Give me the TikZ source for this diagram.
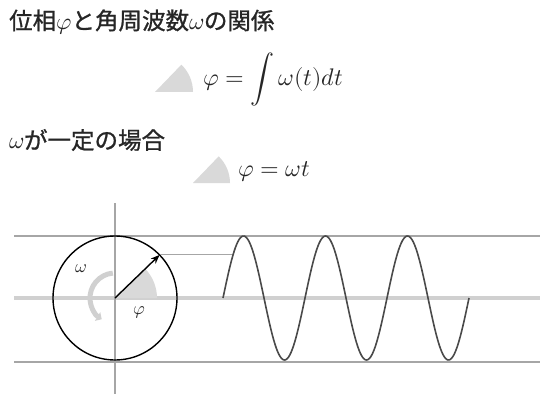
\documentclass[tikz,border=0pt]{standalone}
\usepackage{fontspec}
\usepackage{unicode-math}
\usepackage{xcolor}
\usepackage{tikz}
\usetikzlibrary{positioning, arrows.meta}
\newfontfamily\jpfont{Noto Sans CJK JP}[FakeBold=1]
\definecolor{textgray}{HTML}{262626}
\definecolor{linegray}{HTML}{A6A6A6}
\definecolor{midgray}{HTML}{D0D0D0}
\definecolor{fangray}{HTML}{D9D9D9}
\definecolor{wavegray}{HTML}{4A4A4A}

\begin{document}
\begin{tikzpicture}[x=1pt, y=1pt,
    heading/.style={anchor=west, inner sep=0pt, text=textgray,
                    font=\jpfont\fontsize{23.5}{27}\selectfont},
    formula/.style={anchor=west, inner sep=0pt, text=textgray,
                    font=\fontsize{24}{28}\selectfont},
    fan/.style={fill=fangray, draw=none},
    guide/.style={draw=linegray, line width=1.2pt}]
    \useasboundingbox (0,0) rectangle (540,394);

    % headings and formulas
    \node[heading] (title) at (9,372) {位相$\varphi$と角周波数$\omega$の関係};
    \fill[fan] (155,302) -- ++(0:38) arc (0:46:38) -- cycle;
    \node[formula] (integral) at (203,314) {$\displaystyle \varphi = \int \omega(t)dt$};
    \node[heading] (const) at (9,254) {$\omega$が一定の場合};
    \fill[fan] (193,211) -- ++(0:37) arc (0:46:37) -- cycle;
    \node[formula] (linear) at (238,222) {$\varphi = \omega t$};

    % axes
    \coordinate (center) at (115,96);
    \draw[guide] (14,158) -- (540,158);
    \draw[draw=midgray, line width=3.5pt] (14,96) -- (540,96);
    \draw[guide] (14,32) -- (540,32);
    \draw[guide] (115,191) -- (115,0);

    % rotating vector
    \fill[fan] (center) -- ++(0:42) arc (0:44:42) -- cycle;
    \draw[midgray, line width=5pt, -{Triangle[width=10pt,length=5pt]}]
      ([shift={(95:25)}]center) arc (95:238:25);
    \draw[black, line width=1.4pt] (center) circle (62);
    \coordinate (tip) at ([shift={(44:62)}]center);
    \draw[black, line width=1.4pt, -{Stealth[length=9pt,width=7pt]}] (center) -- (tip);
    \node[text=textgray, font=\fontsize{18}{21}\selectfont] (omega) at (81,125) {$\omega$};
    \node[text=textgray, font=\fontsize{18}{21}\selectfont] (phi) at (139,82) {$\varphi$};

    % wave
    \coordinate (wavept) at ({223+82*44/360},{96+62*sin(44)});
    \draw[linegray, line width=1pt] (tip) -- (wavept);
    \draw[wavegray, line width=1.6pt] plot[domain=0:246, samples=200]
      ({223+\x}, {96+62*sin(\x/82*360)});
\end{tikzpicture}
\end{document}
